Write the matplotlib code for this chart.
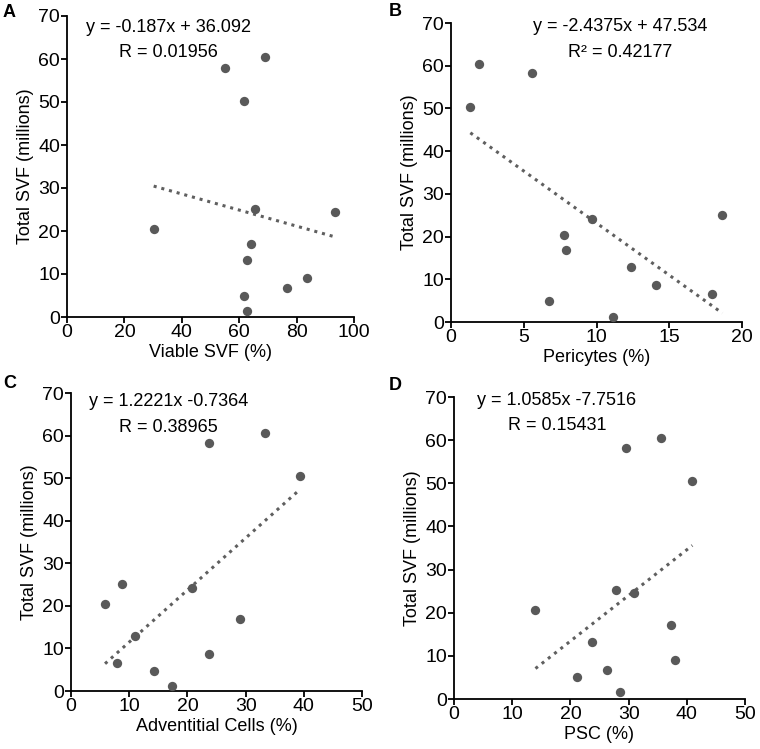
import numpy as np
import matplotlib.pyplot as plt

# Total SVF (millions), same 12 samples in every panel
svf_a = [58.0, 60.4, 50.3, 25.2, 24.4, 20.5, 17.0, 13.2, 9.0, 6.7, 5.0, 1.5]
viable = [55.2, 69.1, 61.6, 65.6, 93.5, 30.2, 64.0, 62.7, 83.6, 76.5, 61.6, 62.7]

svf_b = [60.5, 58.2, 50.4, 24.2, 20.4, 16.8, 25.0, 12.9, 8.6, 6.6, 4.8, 1.25]
pericytes = [1.93, 5.6, 1.33, 9.7, 7.75, 7.9, 18.65, 12.36, 14.08, 17.96, 6.74, 11.12]

svf_c = [60.6, 58.2, 50.4, 25.1, 24.2, 20.4, 16.8, 12.9, 8.7, 6.6, 4.8, 1.25]
adventitial = [33.4, 23.7, 39.4, 8.77, 20.8, 5.85, 29.1, 11.07, 23.7, 7.9, 14.2, 17.4]

svf_d = [60.5, 58.2, 50.5, 25.3, 24.5, 20.6, 17.1, 13.3, 9.0, 6.7, 5.2, 1.6]
psc = [35.5, 29.55, 40.95, 27.8, 30.9, 14.0, 37.2, 23.7, 38.0, 26.3, 21.1, 28.6]

# trend line (slope, intercept) as printed on each panel
fits = [(-0.187, 36.092), (-2.4375, 47.534), (1.2221, -0.7364), (1.0585, -7.7516)]
eq_texts = [("y = -0.187x + 36.092", "R = 0.01956"),
            ("y = -2.4375x + 47.534", "R² = 0.42177"),
            ("y = 1.2221x -0.7364", "R = 0.38965"),
            ("y = 1.0585x -7.7516", "R = 0.15431")]
xlabels = ["Viable SVF (%)", "Pericytes (%)", "Adventitial Cells (%)", "PSC (%)"]
xmaxes = [100, 20, 50, 50]
xsteps = [20, 5, 10, 10]
letters = ["A", "B", "C", "D"]

plt.rcParams['font.family'] = ['Liberation Sans', 'DejaVu Sans']

W, H = 760, 749
fig = plt.figure(figsize=(W / 100, H / 100), dpi=100)

# axes boxes in pixels: left, top, right, bottom
boxes = [(67, 16, 354, 317), (451, 23, 742, 322), (71, 393, 362, 691), (454, 397, 745, 699)]
# equation text positions (data coords)
eq_pos = [(35.2, 67.4, 61.6), (11.6, 69.1, 63.0), (16.7, 67.9, 62.0), (17.7, 69.1, 63.3)]
letter_pos = [(3, 4), (389, 3), (3, 375), (389, 377)]

xs_all = [viable, pericytes, adventitial, psc]
ys_all = [svf_a, svf_b, svf_c, svf_d]

for i in range(4):
    l, t, r, b = boxes[i]
    ax = fig.add_axes([l / W, 1 - b / H, (r - l) / W, (b - t) / H])
    x = np.array(xs_all[i])
    y = np.array(ys_all[i])
    m, c = fits[i]
    xl = np.array([x.min(), x.max()])
    ax.plot(xl, m * xl + c, color='#5f5f5f', lw=2.2, linestyle=(0, (1, 1.6)), zorder=2)
    ax.scatter(x, y, s=45, color='#595959', zorder=3, linewidths=0)
    ax.set_xlim(0, xmaxes[i])
    ax.set_ylim(0, 70)
    ax.set_xticks(np.arange(0, xmaxes[i] + 1, xsteps[i]))
    ax.set_yticks(np.arange(0, 71, 10))
    for s in ['top', 'right']:
        ax.spines[s].set_visible(False)
    for s in ['left', 'bottom']:
        ax.spines[s].set_linewidth(1.3)
    ax.tick_params(labelsize=14, length=4, width=1.3, pad=1)
    ax.set_xlabel(xlabels[i], fontsize=13, labelpad=2)
    ax.set_ylabel("Total SVF (millions)", fontsize=13, labelpad=3)
    ex, ey1, ey2 = eq_pos[i]
    ax.text(ex, ey1, eq_texts[i][0], ha='center', va='center', fontsize=13)
    ax.text(ex, ey2, eq_texts[i][1], ha='center', va='center', fontsize=13)
    fig.text(letter_pos[i][0] / W, 1 - letter_pos[i][1] / H, letters[i],
             fontsize=13, fontweight='bold', ha='left', va='top')

fig.savefig('out.png', dpi=100)
